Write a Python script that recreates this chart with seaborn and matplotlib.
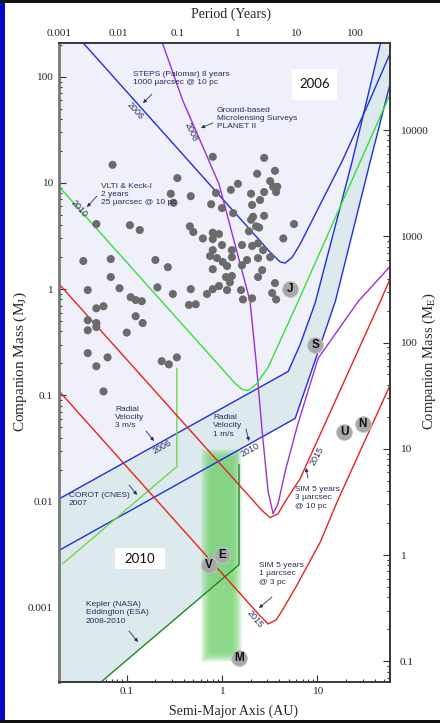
import numpy as np
import matplotlib
matplotlib.use("Agg")
import matplotlib.pyplot as plt
from matplotlib.patches import Rectangle
from matplotlib.ticker import FuncFormatter, FixedLocator, LogLocator, NullFormatter
import seaborn as sns

# Known exoplanets: semi-major axis (AU) and mass (Jupiter masses)
planet_a = [0.071, 0.34, 0.29, 0.31, 0.47, 0.048, 0.108, 0.137, 0.46, 0.50,
            0.035, 0.068, 0.20, 0.27, 0.068, 0.084, 0.21, 0.039, 0.305, 0.47,
            0.110, 0.124, 0.144, 0.80, 2.77, 2.34, 3.6, 3.2, 3.8, 3.44,
            3.7, 2.77, 2.02, 1.47, 1.24, 0.865, 0.77, 1.0, 1.31, 2.07,
            2.51, 2.77, 2.12, 2.02, 2.28, 2.45, 1.92, 5.7, 4.4, 0.80,
            0.93, 0.80, 0.63, 1.0, 1.62, 2.07, 2.39, 0.80, 1.27, 2.70,
            0.75, 0.885, 1.27, 2.39, 3.2, 1.02, 1.13, 1.83, 1.62, 0.80,
            2.64, 2.39, 1.10, 1.27, 1.21, 0.93, 0.80, 0.695, 1.13, 1.585,
            3.6, 3.36, 1.66, 2.07, 3.7, 0.048, 0.057, 0.039, 0.048, 0.048,
            0.039, 0.124, 0.147, 0.10, 0.45, 0.53, 0.039, 0.063, 0.048, 0.057,
            0.233, 0.277, 0.336]
planet_m = [14.8, 11.1, 7.9, 6.5, 7.5, 4.1, 4.0, 3.6, 3.9, 3.45,
            1.84, 1.92, 1.88, 1.61, 1.30, 1.02, 1.04, 0.98, 0.90, 1.0,
            0.84, 0.79, 0.77, 17.6, 17.2, 12.2, 13.0, 10.4, 9.2, 9.2,
            8.2, 8.2, 7.9, 9.8, 8.6, 8.05, 6.3, 5.8, 5.2, 6.2,
            6.9, 4.9, 4.8, 4.5, 3.9, 3.8, 3.5, 4.1, 3.0, 3.4,
            3.3, 2.96, 3.0, 2.6, 2.6, 2.55, 2.7, 2.33, 2.33, 2.33,
            2.05, 1.96, 2.0, 1.96, 2.0, 1.80, 1.65, 1.88, 1.68, 1.54,
            1.51, 1.30, 1.30, 1.33, 1.16, 1.07, 1.0, 0.90, 0.98, 0.98,
            1.14, 0.92, 0.80, 0.82, 0.80, 0.66, 0.69, 0.51, 0.48, 0.44,
            0.41, 0.556, 0.48, 0.39, 0.71, 0.72, 0.25, 0.228, 0.188, 0.109,
            0.21, 0.196, 0.228]

# Solar-system planets
ss_names = ["J", "S", "U", "N", "E", "V", "M"]
ss_a = [5.20, 9.54, 19.2, 30.1, 1.00, 0.723, 1.52]
ss_m = [1.0, 0.299, 0.0457, 0.0539, 0.00315, 0.00256, 0.000338]

# Detection limits (a in AU, mass in M_J)
rv3_a = [0.018, 4.95, 6.6, 9.5, 23.3, 46.0, 49.0]
rv3_m = [0.0102, 0.168, 0.30, 0.74, 16.1, 205, 260]
rv1_a = [0.018, 5.86, 10.0, 15.5, 36.1, 58.6, 62.0]
rv1_m = [0.00334, 0.0607, 0.244, 0.77, 16.1, 87.8, 106]
steps_a = [0.029, 3.20, 4.08, 4.61, 5.46, 6.62, 18.3, 33.6, 58.6, 62.0]
steps_m = [250, 2.23, 1.80, 1.76, 2.0, 2.66, 16.1, 53.3, 168, 190]
lens_a = [0.22, 0.388, 0.929, 1.97, 2.28, 2.64, 3.05, 3.44, 3.88, 4.60, 6.15, 10.2, 27.0, 58.6, 62.0]
lens_m = [250, 59.4, 9.79, 0.77, 0.209, 0.0457, 0.0124, 0.0077, 0.00958, 0.0192, 0.051, 0.223, 0.77, 1.65, 1.75]
vlti_a = [0.018, 1.37, 1.62, 1.88, 2.28, 3.05, 6.31, 58.6, 62.0]
vlti_m = [9.98, 0.130, 0.114, 0.111, 0.127, 0.184, 0.77, 69.2, 77.5]
corot_a = [0.0212, 0.336, 0.336]
corot_m = [0.0026, 0.0214, 0.180]
kepler_a = [0.050, 1.51, 1.51]
kepler_m = [0.00019, 0.00255, 0.0223]
sim3_a = [0.018, 2.64, 3.20, 3.88, 4.60, 6.62, 46.0, 58.6, 62.0]
sim3_m = [1.21, 0.00822, 0.00707, 0.00771, 0.0100, 0.0165, 0.77, 1.27, 1.42]
sim1_a = [0.018, 2.51, 3.05, 3.70, 4.39, 6.15, 10.8, 16.2, 58.6, 62.0]
sim1_m = [0.119, 0.000841, 0.000706, 0.000771, 0.000979, 0.00165, 0.0042, 0.0100, 0.127, 0.142]

# Habitable-zone strip
hz_a = [0.66, 1.47]
hz_m = [0.00034, 0.029]

# Tick values
ticks_au = [0.1, 1, 10]
ticks_mj = [0.001, 0.01, 0.1, 1, 10, 100]
ticks_years = [0.001, 0.01, 0.1, 1, 10, 100]
ticks_me = [0.1, 1, 10, 100, 1000, 10000]

sns.set_style("ticks")
plt.rcParams["font.family"] = ["Liberation Serif", "DejaVu Serif"]
plt.rcParams["mathtext.fontset"] = "stix"

SANS = ["Liberation Sans", "DejaVu Sans"]
INK = "#2b2b5c"
BLUE = "#1f2fe0"
RED = "#e8231d"
PURPLE = "#9b30d6"
GREEN = "#35e035"
LIME = "#72d648"
DKGREEN = "#1e8a1e"

fig = plt.figure(figsize=(4.4, 7.23), dpi=100)
ax = fig.add_axes([0.13477, 0.05712, 0.75159, 0.88299])
ax.set_xscale("log")
ax.set_yscale("log")
XMIN, XMAX, YMIN, YMAX = 0.0196, 58.0, 0.000202, 206.0

# Shaded regions: reach of 2006 surveys and of 2010 surveys
lo_a, hi_a, lo_m, hi_m = 0.01, 100.0, 1e-4, 1e3
lav_x = [lo_a, rv3_a[-1]] + rv3_a[::-1] + [lo_a]
lav_y = [hi_m, hi_m] + rv3_m[::-1] + [rv3_m[0]]
ax.fill(lav_x, lav_y, color="#eff0fa", lw=0, zorder=0.5)

rv1_at_kep = 10 ** np.interp(np.log10(kepler_a[-1]), np.log10(rv1_a[:2]), np.log10(rv1_m[:2]))
teal_x = ([lo_a] + rv3_a + [rv3_a[-1], hi_a, hi_a] + rv1_a[::-1][:-1]
          + [kepler_a[-1]] + kepler_a[::-1] + [kepler_a[0], lo_a])
teal_y = ([rv3_m[0]] + rv3_m + [hi_m, hi_m, rv1_m[-1]] + rv1_m[::-1][:-1]
          + [rv1_at_kep] + kepler_m[::-1] + [lo_m, lo_m])
ax.fill(teal_x, teal_y, color="#dce9ed", lw=0, zorder=0.6)

# Soft-edged habitable-zone strip
for k in range(10):
    g = 4 - k
    dx, dy = g / 95.3, g / 106.5
    x0, x1 = hz_a[0] * 10 ** (-dx), hz_a[1] * 10 ** dx
    y0, y1 = hz_m[0] * 10 ** (-dy), hz_m[1] * 10 ** dy
    ax.fill_between([x0, x1], [y0, y0], [y1, y1], color="#6cd066", alpha=0.13, lw=0, zorder=0.8)

curves = [
    (rv3_a, rv3_m, BLUE), (rv1_a, rv1_m, BLUE), (steps_a, steps_m, BLUE),
    (lens_a, lens_m, PURPLE), (vlti_a, vlti_m, GREEN), (corot_a, corot_m, LIME),
    (kepler_a, kepler_m, DKGREEN), (sim3_a, sim3_m, RED), (sim1_a, sim1_m, RED),
]
for xs, ys, col in curves:
    sns.lineplot(x=xs, y=ys, sort=False, estimator=None, color=col, lw=1.0, ax=ax, zorder=2)

sns.scatterplot(x=planet_a, y=planet_m, s=34, color="#6b6b6b", edgecolor="none", ax=ax, zorder=3)
sns.scatterplot(x=ss_a, y=ss_m, s=130, color="#a8a8a8", edgecolor="#c4c4c4", linewidth=0.6, ax=ax, zorder=4)
for name, a, m in zip(ss_names, ss_a, ss_m):
    ax.text(a, m, name, ha="center", va="center", fontsize=8.5, fontweight="bold",
            family=SANS, color="#111111", zorder=5)

ax.set_xlim(XMIN, XMAX)
ax.set_ylim(YMIN, YMAX)
ax.set_xlabel("")
ax.set_ylabel("")

plain = FuncFormatter(lambda v, p: f"{v:g}")


def style_axis(axis, majors):
    axis.set_major_locator(FixedLocator(majors))
    axis.set_minor_locator(LogLocator(base=10, subs=np.arange(2, 10), numticks=30))
    axis.set_major_formatter(plain)
    axis.set_minor_formatter(NullFormatter())


def style_ticks(obj, pad):
    obj.tick_params(which="both", direction="in", color="#333333", width=0.8, labelsize=8.2, pad=pad)
    obj.tick_params(which="major", length=5)
    obj.tick_params(which="minor", length=2.5)


style_axis(ax.xaxis, ticks_au)
style_axis(ax.yaxis, ticks_mj)
style_ticks(ax, 4)
ax.tick_params(axis="y", pad=4.5)

# Orbital period along the top, Earth masses along the right
secx = ax.secondary_xaxis("top", functions=(lambda a: 10 ** (-0.245) * np.power(a, 1.615),
                                            lambda p: np.power(p * 10 ** 0.245, 1 / 1.615)))
style_axis(secx.xaxis, ticks_years)
style_ticks(secx, 4)

secy = ax.secondary_yaxis("right", functions=(lambda m: m * 317.8, lambda e: e / 317.8))
style_axis(secy.yaxis, ticks_me)
style_ticks(secy, 7)

for sp in ax.spines.values():
    sp.set_color("#3a3a3a")
    sp.set_linewidth(1.4)
ax.spines["left"].set_color("#777777")
ax.spines["left"].set_linewidth(2.0)
for s in (secx, secy):
    for sp in s.spines.values():
        sp.set_color("#3a3a3a")
        sp.set_linewidth(1.4)

fig.text(0.525, 0.9806, "Period (Years)", ha="center", va="center", fontsize=10)
fig.text(0.531, 0.0166, "Semi-Major Axis (AU)", ha="center", va="center", fontsize=10)
fig.text(0.046, 0.5, r"Companion Mass (M$_{\rm J}$)", ha="center", va="center", rotation=90, fontsize=11)
fig.text(0.975, 0.5, r"Companion Mass (M$_{\rm E}$)", ha="center", va="center", rotation=90, fontsize=10.5)

# Survey annotations
note = dict(fontsize=6, color=INK, family=SANS, linespacing=1.25, ha="left", va="top",
            transform=ax.transAxes, zorder=6)
ax.text(0.2229, 0.9565, "STEPS (Palomar) 8 years\n1000 \u00b5arcsec @ 10 pc", **note)
ax.text(0.4769, 0.9003, "Ground-based\nMicrolensing Surveys\nPLANET II", **note)
ax.text(0.1261, 0.7812, "VLTI & Keck-I\n2 years\n25 \u00b5arcsec @ 10 pc", **note)
ax.text(0.1684, 0.4319, "Radial\nVelocity\n3 m/s", **note)
ax.text(0.4648, 0.4193, "Radial\nVelocity\n1 m/s", **note)
ax.text(0.0293, 0.2971, "COROT (CNES)\n2007", **note)
ax.text(0.0807, 0.1264, "Kepler (NASA)\nEddington (ESA)\n2008-2010", **note)
ax.text(0.7127, 0.3065, "SIM 5 years\n3 \u00b5arcsec\n@ 10 pc", **note)
ax.text(0.6039, 0.1875, "SIM 5 years\n1 \u00b5arcsec\n@ 3 pc", **note)

arrows = [
    ((0.2800, 0.9204), (0.2531, 0.9063)),
    ((0.4648, 0.8753), (0.4285, 0.8675)),
    ((0.1140, 0.7608), (0.0838, 0.7436)),
    ((0.2622, 0.3927), (0.2864, 0.3771)),
    ((0.5646, 0.3958), (0.5736, 0.3770)),
    ((0.2108, 0.3081), (0.2350, 0.2925)),
    ((0.2108, 0.0794), (0.2380, 0.0622)),
    ((0.7520, 0.3191), (0.7460, 0.3348)),
    ((0.6432, 0.1327), (0.6039, 0.1154)),
]
for tail, head in arrows:
    ax.annotate("", xy=head, xytext=tail, xycoords="axes fraction", textcoords="axes fraction",
                arrowprops=dict(arrowstyle="-|>", color=INK, lw=0.6, mutation_scale=5,
                                shrinkA=0, shrinkB=0), zorder=6)

year = dict(fontsize=6.5, color=INK, family=SANS, ha="center", va="center",
            rotation_mode="anchor", transform=ax.transAxes, zorder=6)
ax.text(0.2289, 0.8940, "2006", rotation=-48, **year)
ax.text(0.3982, 0.8611, "2008", rotation=-65, **year)
ax.text(0.0596, 0.7409, "2010", rotation=-48, **year)
ax.text(0.3106, 0.3676, "2006", rotation=29, **year)
ax.text(0.5766, 0.3629, "2010", rotation=29, **year)
ax.text(0.7793, 0.3535, "2015", rotation=62, **year)
ax.text(0.5918, 0.0982, "2015", rotation=-50, **year)

# Era boxes
for (x0, x1, y0, y1, label) in [(0.704, 0.840, 0.911, 0.960, "2006"),
                                (0.168, 0.320, 0.1765, 0.2094, "2010")]:
    ax.add_patch(Rectangle((x0, y0), x1 - x0, y1 - y0, transform=ax.transAxes,
                           facecolor="white", edgecolor="none", zorder=6))
    ax.text((x0 + x1) / 2, (y0 + y1) / 2, label, transform=ax.transAxes, ha="center",
            va="center", fontsize=9.5, family=["Lato", "DejaVu Sans"], color="#111111", zorder=7)

# Page frame
fig.add_artist(Rectangle((0, 0), 5 / 440, 1, transform=fig.transFigure, color="#0707c9", lw=0))
fig.add_artist(Rectangle((0, 1 - 3 / 723), 1, 3 / 723, transform=fig.transFigure, color="#111111", lw=0))
fig.add_artist(Rectangle((0, 0), 1, 3 / 723, transform=fig.transFigure, color="#111111", lw=0))

fig.savefig("out.png", dpi=100)
